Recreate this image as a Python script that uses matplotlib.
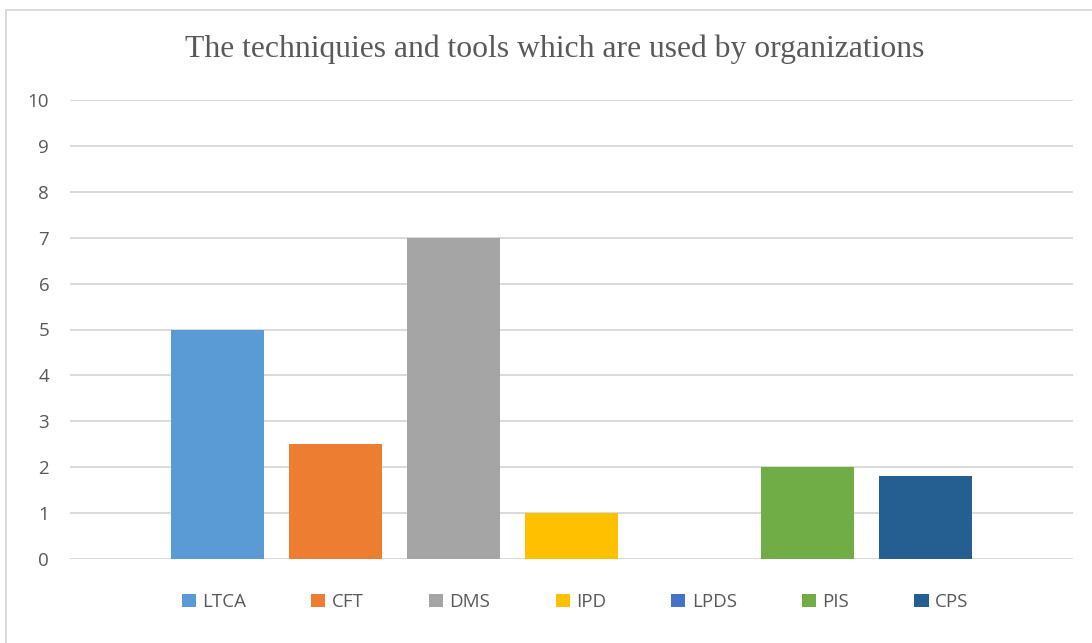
import matplotlib.pyplot as plt
from matplotlib.patches import Rectangle, Patch

# data
series = ['LTCA', 'CFT', 'DMS', 'IPD', 'LPDS', 'PIS', 'CPS']
values = [5, 2.5, 7, 1, 0, 2, 1.8]
colors = ['#5B9BD5', '#ED7D31', '#A5A5A5', '#FFC000', '#4472C4', '#70AD47', '#255E91']
yticks = [0, 1, 2, 3, 4, 5, 6, 7, 8, 9, 10]
title = 'The techniquies and tools which are used by organizations'

plt.rcParams['font.family'] = ['Open Sans', 'DejaVu Sans']

fig = plt.figure(figsize=(10.92, 6.43), dpi=100)
fig.patches.append(Rectangle((6 / 1092, -0.1), 1.2, 1 - 10 / 643 + 0.1,
                             transform=fig.transFigure, fill=False,
                             edgecolor='#D9D9D9', linewidth=1.4))

ax = fig.add_axes([70 / 1092, 1 - 559 / 643, 1003 / 1092, 459 / 643])
axw = 1003.0
step = 118 / axw
width = 93 / axw
for i, (name, v, c) in enumerate(zip(series, values, colors)):
    ax.bar((i - 3) * step, v, width=width, color=c, zorder=3, label=name)

for t in yticks:
    ax.axhline(t, color='#D9D9D9', linewidth=1.4, zorder=1)

ax.set_xlim(-0.5, 0.5)
ax.set_ylim(0, 10)
ax.set_xticks([])
ax.set_yticks(yticks)
ax.set_yticklabels([str(t) for t in yticks], fontsize=13.5, color='#595959')
ax.tick_params(axis='y', length=0, pad=15)
for s in ax.spines.values():
    s.set_visible(False)

fig.text(555 / 1092, 1 - 49 / 643, title, ha='center', va='center',
         fontsize=22.8, color='#595959', family=['Liberation Serif'])

handles = [Patch(facecolor=c, edgecolor='none') for c in colors]
leg = fig.legend(handles, series, loc='center', bbox_to_anchor=(575 / 1092, 1 - 602 / 643),
                 ncol=7, frameon=False, fontsize=13.5, handlelength=0.75, handleheight=0.75,
                 handletextpad=0.35, columnspacing=3.47, borderpad=0)
for txt in leg.get_texts():
    txt.set_color('#595959')

fig.savefig('out.png', dpi=100)
